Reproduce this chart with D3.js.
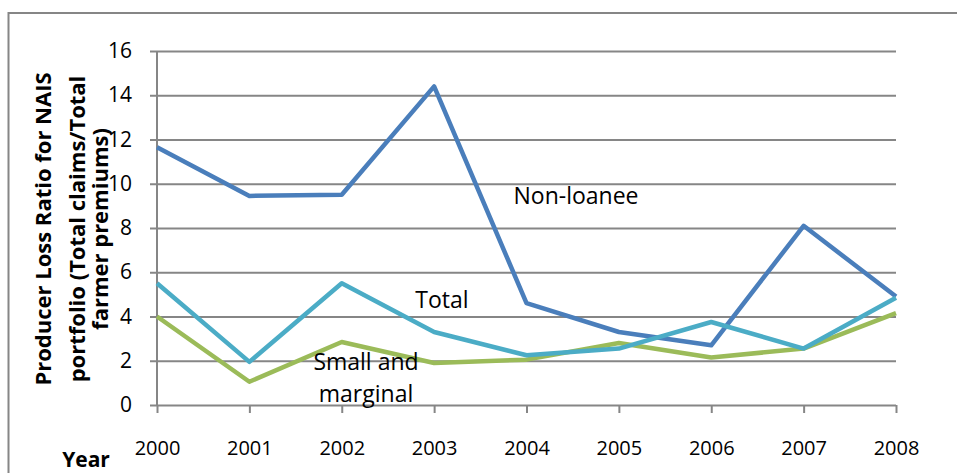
<!DOCTYPE html>
<html>
<head>
<meta charset="utf-8">
<script src="https://cdn.jsdelivr.net/npm/d3@7"></script>
<style>
  body { margin: 0; background: #fff; }
  svg { display: block; font-family: "Open Sans", sans-serif; }
</style>
</head>
<body>
<div id="chart"></div>
<script>
// values
const years = [2000, 2001, 2002, 2003, 2004, 2005, 2006, 2007, 2008];
const nonLoanee = [11.65, 9.45, 9.5, 14.4, 4.6, 3.3, 2.7, 8.1, 4.9];
const total = [5.5, 1.95, 5.5, 3.3, 2.25, 2.55, 3.75, 2.55, 4.85];
const smallMarginal = [4.0, 1.05, 2.85, 1.9, 2.05, 2.8, 2.15, 2.55, 4.15];
const yTicks = [0, 2, 4, 6, 8, 10, 12, 14, 16];
const yTitleLines = ['Producer Loss Ratio for NAIS', 'portfolio (Total claims/Total', 'farmer premiums)'];

const width = 957;
const height = 473;
const margin = {top: 51, right: 61, bottom: 68, left: 157};
const font = '"Open Sans", sans-serif';

const svg = d3.select('#chart').append('svg')
    .attr('width', width)
    .attr('height', height);

// outer chart-area frame
svg.append('rect')
    .attr('x', 8.5)
    .attr('y', 13)
    .attr('width', 960)
    .attr('height', 470)
    .attr('fill', 'none')
    .attr('stroke', '#868686')
    .attr('stroke-width', 2);

const x = d3.scalePoint()
    .domain(years)
    .range([margin.left, width - margin.right]);

const y = d3.scaleLinear()
    .domain([0, 16])
    .range([height - margin.bottom, margin.top]);

// horizontal gridlines + y labels
const yAxis = d3.axisLeft(y)
    .tickValues(yTicks)
    .tickSize(-(width - margin.right - margin.left))
    .tickPadding(25);

const gy = svg.append('g')
    .attr('transform', `translate(${margin.left},0)`)
    .call(yAxis);
gy.select('.domain').remove();
gy.selectAll('.tick line')
    .attr('x1', -7)
    .attr('stroke', '#868686')
    .attr('stroke-width', 2);
gy.selectAll('.tick text')
    .attr('font-size', 21)
    .attr('font-family', font)
    .attr('fill', '#000');

// left axis line
svg.append('line')
    .attr('x1', margin.left).attr('x2', margin.left)
    .attr('y1', y(16)).attr('y2', y(0))
    .attr('stroke', '#868686')
    .attr('stroke-width', 2);

// x axis
const xAxis = d3.axisBottom(x)
    .tickSize(8)
    .tickPadding(28);
const gx = svg.append('g')
    .attr('transform', `translate(0,${y(0)})`)
    .call(xAxis);
gx.select('.domain').remove();
gx.selectAll('.tick line')
    .attr('stroke', '#868686')
    .attr('stroke-width', 2);
gx.selectAll('.tick text')
    .attr('font-size', 20)
    .attr('font-family', font)
    .attr('fill', '#000');

// series lines
const line = d3.line()
    .x((d, i) => x(years[i]))
    .y((d) => y(d));

const series = [
  {name: 'Non-loanee', values: nonLoanee, color: '#4a7ebb'},
  {name: 'Small and marginal', values: smallMarginal, color: '#9bbb59'},
  {name: 'Total', values: total, color: '#4bacc6'},
];

svg.append('g')
    .selectAll('path')
    .data(series)
    .join('path')
    .attr('d', (d) => line(d.values))
    .attr('fill', 'none')
    .attr('stroke', (d) => d.color)
    .attr('stroke-width', 4.5)
    .attr('stroke-linejoin', 'round');

// inline series labels
const labels = svg.append('g')
    .attr('font-size', 23)
    .attr('text-anchor', 'middle')
    .attr('fill', '#000');
labels.append('text').attr('x', 576).attr('y', 204).text('Non-loanee');
labels.append('text').attr('x', 442).attr('y', 308).text('Total');
labels.append('text').attr('x', 366).attr('y', 370).text('Small and');
labels.append('text').attr('x', 366).attr('y', 402).text('marginal');

// y axis title, three lines, rotated
const yTitle = svg.append('text')
    .attr('transform', 'translate(0,229) rotate(-90)')
    .attr('text-anchor', 'middle')
    .attr('font-size', 22)
    .attr('font-weight', 'bold')
    .attr('fill', '#000');
const titleBaselines = [51, 85, 108];
yTitleLines.forEach((t, i) => {
  yTitle.append('tspan')
      .attr('x', 0)
      .attr('y', titleBaselines[i])
      .text(t);
});

// x axis title
svg.append('text')
    .attr('x', 86)
    .attr('y', 467)
    .attr('text-anchor', 'middle')
    .attr('font-size', 21)
    .attr('font-weight', 'bold')
    .attr('fill', '#000')
    .text('Year');
</script>
</body>
</html>
